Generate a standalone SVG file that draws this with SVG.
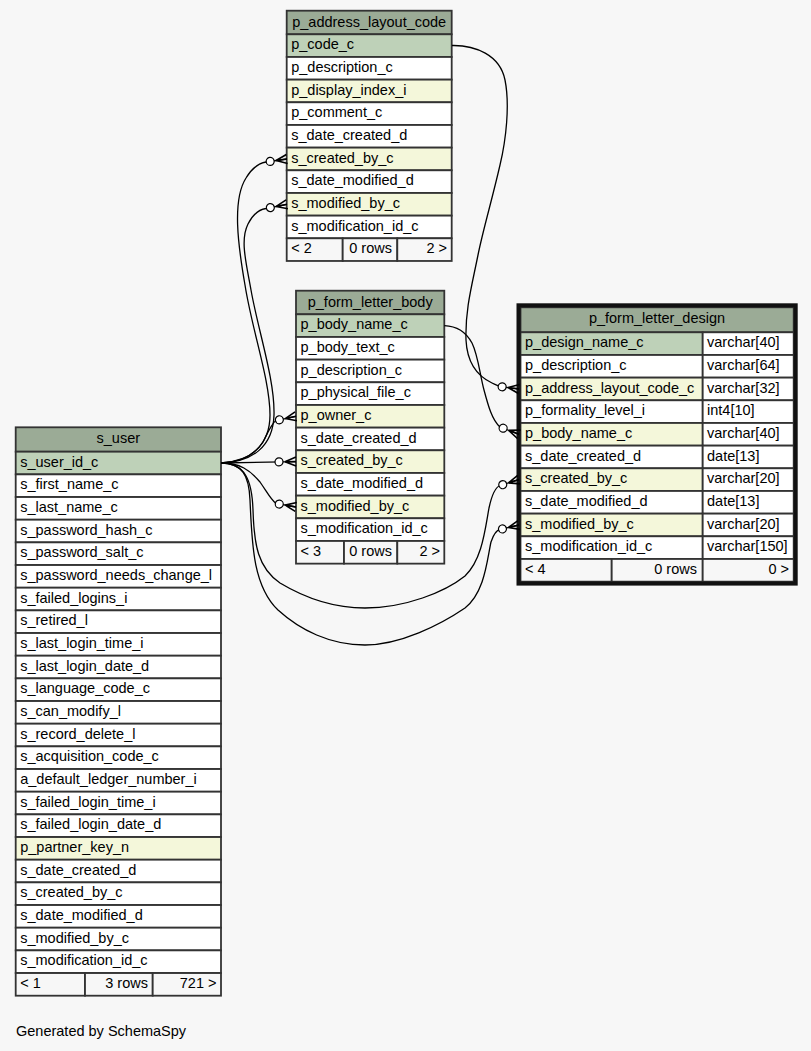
<svg xmlns="http://www.w3.org/2000/svg" width="811" height="1051" viewBox="0 0 811 1051">
<defs>
<style>
.cell{stroke:#333;stroke-width:1.8}
.hd{fill:#9bab96}
.pk{fill:#bed1b8}
.ix{fill:#f4f7da}
.nm{fill:#ffffff}
.ft{fill:#f7f7f7}
.focus{fill:none;stroke:#111;stroke-width:4}
text{font-family:"Liberation Sans",Arial,Helvetica,sans-serif;font-size:14.5px;fill:#000}
.c{text-anchor:middle}
.r{text-anchor:end}
.edge{fill:none;stroke:#000;stroke-width:1.3;marker-end:url(#crowodot)}
</style>
<marker id="crowodot" markerUnits="userSpaceOnUse" viewBox="-23 -7 24 14" markerWidth="24" markerHeight="14" refX="0" refY="0" orient="auto" overflow="visible">
<path d="M-11,0 L0,-4.5 M-11,0 L0,0 M-11,0 L0,4.5" fill="none" stroke="#000" stroke-width="1.6"/>
<circle cx="-17" cy="0" r="4" fill="#fff" stroke="#000" stroke-width="1.2"/>
</marker>
</defs>
<rect x="0" y="0" width="811" height="1051" fill="#f7f7f7"/>

<g id="p_address_layout_code">
<rect class="cell hd" x="286.7" y="10.7" width="165" height="23.6"/>
<rect class="cell pk" x="286.7" y="34.3" width="165" height="22.67"/>
<rect class="cell nm" x="286.7" y="56.97" width="165" height="22.67"/>
<rect class="cell ix" x="286.7" y="79.63" width="165" height="22.67"/>
<rect class="cell nm" x="286.7" y="102.3" width="165" height="22.67"/>
<rect class="cell nm" x="286.7" y="124.97" width="165" height="22.67"/>
<rect class="cell ix" x="286.7" y="147.63" width="165" height="22.67"/>
<rect class="cell nm" x="286.7" y="170.3" width="165" height="22.67"/>
<rect class="cell ix" x="286.7" y="192.97" width="165" height="22.67"/>
<rect class="cell nm" x="286.7" y="215.63" width="165" height="22.67"/>
<rect class="cell ft" x="286.7" y="238.3" width="56" height="22.67"/>
<rect class="cell ft" x="342.7" y="238.3" width="54.6" height="22.67"/>
<rect class="cell ft" x="397.3" y="238.3" width="54.4" height="22.67"/>
<text class="c" x="369.2" y="26.5">p_address_layout_code</text>
<text x="291.2" y="49.3">p_code_c</text>
<text x="291.2" y="71.97">p_description_c</text>
<text x="291.2" y="94.63">p_display_index_i</text>
<text x="291.2" y="117.3">p_comment_c</text>
<text x="291.2" y="139.97">s_date_created_d</text>
<text x="291.2" y="162.63">s_created_by_c</text>
<text x="291.2" y="185.3">s_date_modified_d</text>
<text x="291.2" y="207.97">s_modified_by_c</text>
<text x="291.2" y="230.63">s_modification_id_c</text>
<text x="291.2" y="253.3">&lt; 2</text>
<text class="r" x="392" y="253.3">0 rows</text>
<text class="r" x="447" y="253.3">2 &gt;</text>
</g>

<g id="p_form_letter_body">
<rect class="cell hd" x="296" y="290.7" width="148.3" height="23.6"/>
<rect class="cell pk" x="296" y="314.3" width="148.3" height="22.67"/>
<rect class="cell nm" x="296" y="336.97" width="148.3" height="22.67"/>
<rect class="cell nm" x="296" y="359.63" width="148.3" height="22.67"/>
<rect class="cell nm" x="296" y="382.3" width="148.3" height="22.67"/>
<rect class="cell ix" x="296" y="404.97" width="148.3" height="22.67"/>
<rect class="cell nm" x="296" y="427.63" width="148.3" height="22.67"/>
<rect class="cell ix" x="296" y="450.3" width="148.3" height="22.67"/>
<rect class="cell nm" x="296" y="472.97" width="148.3" height="22.67"/>
<rect class="cell ix" x="296" y="495.63" width="148.3" height="22.67"/>
<rect class="cell nm" x="296" y="518.3" width="148.3" height="22.67"/>
<rect class="cell ft" x="296" y="540.97" width="48" height="22.67"/>
<rect class="cell ft" x="344" y="540.97" width="53.3" height="22.67"/>
<rect class="cell ft" x="397.3" y="540.97" width="47" height="22.67"/>
<text class="c" x="370.2" y="306.5">p_form_letter_body</text>
<text x="300.5" y="329.3">p_body_name_c</text>
<text x="300.5" y="351.97">p_body_text_c</text>
<text x="300.5" y="374.63">p_description_c</text>
<text x="300.5" y="397.3">p_physical_file_c</text>
<text x="300.5" y="419.97">p_owner_c</text>
<text x="300.5" y="442.63">s_date_created_d</text>
<text x="300.5" y="465.3">s_created_by_c</text>
<text x="300.5" y="487.97">s_date_modified_d</text>
<text x="300.5" y="510.63">s_modified_by_c</text>
<text x="300.5" y="533.3">s_modification_id_c</text>
<text x="300.5" y="555.97">&lt; 3</text>
<text class="r" x="392" y="555.97">0 rows</text>
<text class="r" x="440" y="555.97">2 &gt;</text>
</g>

<g id="p_form_letter_design">
<rect class="cell hd" x="520.5" y="307.3" width="273.2" height="25"/>
<rect class="cell pk" x="520.5" y="332.3" width="182.2" height="22.67"/>
<rect class="cell nm" x="702.7" y="332.3" width="91" height="22.67"/>
<rect class="cell nm" x="520.5" y="354.97" width="182.2" height="22.67"/>
<rect class="cell nm" x="702.7" y="354.97" width="91" height="22.67"/>
<rect class="cell ix" x="520.5" y="377.63" width="182.2" height="22.67"/>
<rect class="cell nm" x="702.7" y="377.63" width="91" height="22.67"/>
<rect class="cell nm" x="520.5" y="400.3" width="182.2" height="22.67"/>
<rect class="cell nm" x="702.7" y="400.3" width="91" height="22.67"/>
<rect class="cell ix" x="520.5" y="422.97" width="182.2" height="22.67"/>
<rect class="cell nm" x="702.7" y="422.97" width="91" height="22.67"/>
<rect class="cell nm" x="520.5" y="445.63" width="182.2" height="22.67"/>
<rect class="cell nm" x="702.7" y="445.63" width="91" height="22.67"/>
<rect class="cell ix" x="520.5" y="468.3" width="182.2" height="22.67"/>
<rect class="cell nm" x="702.7" y="468.3" width="91" height="22.67"/>
<rect class="cell nm" x="520.5" y="490.97" width="182.2" height="22.67"/>
<rect class="cell nm" x="702.7" y="490.97" width="91" height="22.67"/>
<rect class="cell ix" x="520.5" y="513.63" width="182.2" height="22.67"/>
<rect class="cell nm" x="702.7" y="513.63" width="91" height="22.67"/>
<rect class="cell nm" x="520.5" y="536.3" width="182.2" height="22.67"/>
<rect class="cell nm" x="702.7" y="536.3" width="91" height="22.67"/>
<rect class="cell ft" x="520.5" y="558.97" width="91.2" height="22.67"/>
<rect class="cell ft" x="611.7" y="558.97" width="91" height="22.67"/>
<rect class="cell ft" x="702.7" y="558.97" width="91" height="22.67"/>
<rect class="focus" x="518.5" y="305.3" width="277.2" height="278.3"/>
<text class="c" x="657" y="323">p_form_letter_design</text>
<text x="525" y="347.3">p_design_name_c</text>
<text x="707" y="347.3">varchar[40]</text>
<text x="525" y="369.97">p_description_c</text>
<text x="707" y="369.97">varchar[64]</text>
<text x="525" y="392.63">p_address_layout_code_c</text>
<text x="707" y="392.63">varchar[32]</text>
<text x="525" y="415.3">p_formality_level_i</text>
<text x="707" y="415.3">int4[10]</text>
<text x="525" y="437.97">p_body_name_c</text>
<text x="707" y="437.97">varchar[40]</text>
<text x="525" y="460.63">s_date_created_d</text>
<text x="707" y="460.63">date[13]</text>
<text x="525" y="483.3">s_created_by_c</text>
<text x="707" y="483.3">varchar[20]</text>
<text x="525" y="505.97">s_date_modified_d</text>
<text x="707" y="505.97">date[13]</text>
<text x="525" y="528.63">s_modified_by_c</text>
<text x="707" y="528.63">varchar[20]</text>
<text x="525" y="551.3">s_modification_id_c</text>
<text x="707" y="551.3">varchar[150]</text>
<text x="525" y="573.97">&lt; 4</text>
<text class="r" x="697" y="573.97">0 rows</text>
<text class="r" x="789" y="573.97">0 &gt;</text>
</g>

<g id="s_user">
<rect class="cell hd" x="15.7" y="427.3" width="205.3" height="24.4"/>
<rect class="cell pk" x="15.7" y="451.7" width="205.3" height="22.67"/>
<rect class="cell nm" x="15.7" y="474.37" width="205.3" height="22.67"/>
<rect class="cell nm" x="15.7" y="497.03" width="205.3" height="22.67"/>
<rect class="cell nm" x="15.7" y="519.7" width="205.3" height="22.67"/>
<rect class="cell nm" x="15.7" y="542.37" width="205.3" height="22.67"/>
<rect class="cell nm" x="15.7" y="565.03" width="205.3" height="22.67"/>
<rect class="cell nm" x="15.7" y="587.7" width="205.3" height="22.67"/>
<rect class="cell nm" x="15.7" y="610.37" width="205.3" height="22.67"/>
<rect class="cell nm" x="15.7" y="633.03" width="205.3" height="22.67"/>
<rect class="cell nm" x="15.7" y="655.7" width="205.3" height="22.67"/>
<rect class="cell nm" x="15.7" y="678.37" width="205.3" height="22.67"/>
<rect class="cell nm" x="15.7" y="701.03" width="205.3" height="22.67"/>
<rect class="cell nm" x="15.7" y="723.7" width="205.3" height="22.67"/>
<rect class="cell nm" x="15.7" y="746.37" width="205.3" height="22.67"/>
<rect class="cell nm" x="15.7" y="769.03" width="205.3" height="22.67"/>
<rect class="cell nm" x="15.7" y="791.7" width="205.3" height="22.67"/>
<rect class="cell nm" x="15.7" y="814.37" width="205.3" height="22.67"/>
<rect class="cell ix" x="15.7" y="837.03" width="205.3" height="22.67"/>
<rect class="cell nm" x="15.7" y="859.7" width="205.3" height="22.67"/>
<rect class="cell nm" x="15.7" y="882.37" width="205.3" height="22.67"/>
<rect class="cell nm" x="15.7" y="905.03" width="205.3" height="22.67"/>
<rect class="cell nm" x="15.7" y="927.7" width="205.3" height="22.67"/>
<rect class="cell nm" x="15.7" y="950.37" width="205.3" height="22.67"/>
<rect class="cell ft" x="15.7" y="973.03" width="69.3" height="22.67"/>
<rect class="cell ft" x="85" y="973.03" width="67.7" height="22.67"/>
<rect class="cell ft" x="152.7" y="973.03" width="68.3" height="22.67"/>
<text class="c" x="118.3" y="443">s_user</text>
<text x="20.2" y="466.7">s_user_id_c</text>
<text x="20.2" y="489.37">s_first_name_c</text>
<text x="20.2" y="512.03">s_last_name_c</text>
<text x="20.2" y="534.7">s_password_hash_c</text>
<text x="20.2" y="557.37">s_password_salt_c</text>
<text x="20.2" y="580.03">s_password_needs_change_l</text>
<text x="20.2" y="602.7">s_failed_logins_i</text>
<text x="20.2" y="625.37">s_retired_l</text>
<text x="20.2" y="648.03">s_last_login_time_i</text>
<text x="20.2" y="670.7">s_last_login_date_d</text>
<text x="20.2" y="693.37">s_language_code_c</text>
<text x="20.2" y="716.03">s_can_modify_l</text>
<text x="20.2" y="738.7">s_record_delete_l</text>
<text x="20.2" y="761.37">s_acquisition_code_c</text>
<text x="20.2" y="784.03">a_default_ledger_number_i</text>
<text x="20.2" y="806.7">s_failed_login_time_i</text>
<text x="20.2" y="829.37">s_failed_login_date_d</text>
<text x="20.2" y="852.03">p_partner_key_n</text>
<text x="20.2" y="874.7">s_date_created_d</text>
<text x="20.2" y="897.37">s_created_by_c</text>
<text x="20.2" y="920.03">s_date_modified_d</text>
<text x="20.2" y="942.7">s_modified_by_c</text>
<text x="20.2" y="965.37">s_modification_id_c</text>
<text x="20.2" y="988.03">&lt; 1</text>
<text class="r" x="148" y="988.03">3 rows</text>
<text class="r" x="216.5" y="988.03">721 &gt;</text>
</g>

<g id="connectors">
<path class="edge" d="M221,463 C250,462 270,445 270,415 C270,380 252,330 245,285 C238,245 232,200 246,178 C252,168 260,163 266,162 L287,159"/>
<path class="edge" d="M221,463 C252,462 273,447 274,415 C275,380 258,330 251,290 C246,262 240,240 248,224 C253,214 259,209.5 266,208.5 L287,204.3"/>
<path class="edge" d="M221,463 C240,462 255,455 263,442 C268,432 272,423 276,420.5 L296,416.3"/>
<path class="edge" d="M221,463 L296,461.6"/>
<path class="edge" d="M221,463 C240,463 250,470 260,482 C267,492 271,500 276,503.5 L296,507"/>
<path class="edge" d="M221,463 C245,463 252,480 253,510 C254,545 258,568 280,583 C305,598 335,608 365,608 C405,608 445,592 465,576 C482,560 485,530 489,508 C492,494 496,487 500,485.5 L519,479.6"/>
<path class="edge" d="M221,463 C242,463 249,475 250,500 C252,540 252,585 278,610 C300,630 330,645 365,645 C400,645 440,625 465,608 C485,592 487,560 491,542 C494,533 497,530 500,529.5 L519,525"/>
<path class="edge" d="M452,45.5 C475,45 500,55 505,80 C510,105 506,140 500,165 C492,200 483,230 478,255 C472,285 465,310 466,340 C467,360 475,375 492,383 C496,385 499,386 500,386.5 L519,389"/>
<path class="edge" d="M444.3,325.6 C455,326 465,330 472,343 C478,355 480,375 484,390 C488,405 492,420 500,427 L519,434.3"/>
</g>

<text x="16" y="1036">Generated by SchemaSpy</text>
</svg>
